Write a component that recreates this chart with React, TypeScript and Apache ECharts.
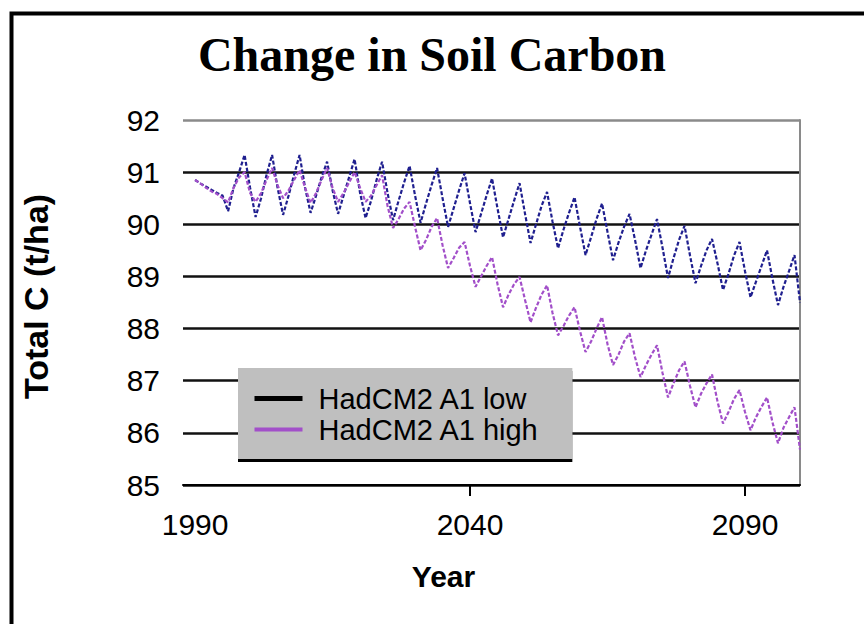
import React, { useEffect, useRef } from "react";
import * as echarts from "echarts";

const START_YEAR = 1990;

// Total soil carbon (t/ha), one value per year 1990..2100
const lowSeries = [
  90.85, 90.78, 90.72, 90.66, 90.6, 90.55, 90.25, 90.7, 91.0, 91.33,
  90.7, 90.14, 90.5, 90.95, 91.33, 90.7, 90.18, 90.55, 90.95, 91.33,
  90.7, 90.22, 90.55, 90.9, 91.2, 90.65, 90.2, 90.55, 90.9, 91.25,
  90.6, 90.12, 90.45, 90.85, 91.2, 90.6, 90.08, 90.45, 90.8, 91.12,
  90.55, 90.03, 90.4, 90.75, 91.08, 90.5, 89.95, 90.3, 90.65, 90.98,
  90.4, 89.85, 90.2, 90.55, 90.88, 90.3, 89.75, 90.1, 90.45, 90.79,
  90.2, 89.64, 90.0, 90.35, 90.62, 90.05, 89.54, 89.9, 90.22, 90.52,
  89.95, 89.41, 89.75, 90.1, 90.4, 89.85, 89.31, 89.65, 89.95, 90.2,
  89.7, 89.16, 89.5, 89.8, 90.1, 89.55, 88.97, 89.35, 89.7, 89.97,
  89.4, 88.87, 89.2, 89.5, 89.72, 89.25, 88.74, 89.05, 89.4, 89.66,
  89.1, 88.6, 88.9, 89.2, 89.5, 88.95, 88.45, 88.8, 89.1, 89.41,
  88.5,
];

const highSeries = [
  90.85, 90.78, 90.7, 90.63, 90.58, 90.5, 90.42, 90.7, 90.9, 91.0,
  90.6, 90.43, 90.6, 90.85, 91.08, 90.75, 90.5, 90.65, 90.85, 91.04,
  90.7, 90.41, 90.6, 90.85, 91.08, 90.7, 90.43, 90.6, 90.8, 91.0,
  90.7, 90.43, 90.55, 90.75, 90.94, 90.35, 89.93, 90.1, 90.3, 90.43,
  89.95, 89.5, 89.7, 89.95, 90.12, 89.6, 89.16, 89.35, 89.55, 89.66,
  89.2, 88.8, 89.0, 89.2, 89.37, 88.85, 88.41, 88.65, 88.85, 88.99,
  88.55, 88.12, 88.4, 88.65, 88.83, 88.3, 87.87, 88.05, 88.25, 88.41,
  87.95, 87.55, 87.75, 88.0, 88.22, 87.7, 87.3, 87.5, 87.75, 87.91,
  87.45, 87.07, 87.3, 87.5, 87.68, 87.15, 86.68, 86.95, 87.2, 87.37,
  86.9, 86.49, 86.75, 86.95, 87.12, 86.6, 86.18, 86.4, 86.65, 86.82,
  86.4, 86.05, 86.3, 86.5, 86.68, 86.2, 85.8, 86.1, 86.3, 86.49,
  85.68,
];

const seriesNames = ["HadCM2 A1 low", "HadCM2 A1 high"];
const xLabelYears = [1990, 2040, 2090];
const xTickYears = [2040, 2090];
const yMin = 85;
const yMax = 92;

const SANS = "'Liberation Sans', Arial, Helvetica, sans-serif";
const SERIF = "'Liberation Serif', 'Times New Roman', serif";

export default function App() {
  const ref = useRef<HTMLDivElement>(null);

  useEffect(() => {
    if (!ref.current) return;
    const chart = echarts.init(ref.current, undefined, { renderer: "svg" });
    const toPairs = (arr: number[]) => arr.map((v, i) => [START_YEAR + i, v]);

    chart.setOption({
      animation: false,
      backgroundColor: "#ffffff",
      title: {
        text: "Change in Soil Carbon",
        left: "center",
        top: 25,
        textStyle: {
          fontFamily: SERIF,
          fontWeight: "bold",
          fontSize: 48,
          color: "#000",
        },
      },
      graphic: [
        {
          type: "rect",
          shape: { x: 11.5, y: 13.5, width: 900, height: 700 },
          style: { fill: "none", stroke: "#000", lineWidth: 4 },
          silent: true,
          z: 100,
        },
      ],
      legend: {
        left: 238,
        top: 368,
        orient: "vertical",
        backgroundColor: "#bfbfbf",
        padding: [16, 33, 15, 14],
        itemGap: 2,
        itemWidth: 48,
        itemHeight: 14,
        shadowColor: "#000",
        shadowOffsetY: 3,
        shadowBlur: 0,
        textStyle: {
          fontFamily: SANS,
          fontSize: 29,
          color: "#000",
          padding: [0, 0, 0, 11],
        },
        data: [
          {
            name: seriesNames[0],
            itemStyle: { color: "#000", opacity: 0 },
            lineStyle: { color: "#000", width: 5, type: "solid" },
          },
          {
            name: seriesNames[1],
            itemStyle: { color: "#a24fc9", opacity: 0 },
            lineStyle: { color: "#a24fc9", width: 4, type: "solid" },
          },
        ],
      },
      grid: { left: 183, top: 120, right: 64, bottom: 139 },
      xAxis: {
        type: "value",
        min: 1987.8,
        max: 2100,
        name: "Year",
        nameLocation: "middle",
        nameGap: 76,
        nameTextStyle: {
          fontFamily: SANS,
          fontWeight: "bold",
          fontSize: 30,
          color: "#000",
          padding: [0, 96, 0, 0],
        },
        axisLine: { show: true, lineStyle: { color: "#000", width: 2 } },
        axisTick: {
          show: true,
          customValues: xTickYears,
          length: 11,
          lineStyle: { color: "#000", width: 2 },
        },
        axisLabel: {
          customValues: xLabelYears,
          formatter: (v: number) => String(v),
          fontFamily: SANS,
          fontSize: 30,
          color: "#000",
          margin: 24,
        },
        splitLine: { show: false },
      },
      yAxis: [
        {
          type: "value",
          min: yMin,
          max: yMax,
          interval: 1,
          name: "Total C (t/ha)",
          nameLocation: "middle",
          nameRotate: 90,
          nameGap: 130,
          nameTextStyle: {
            fontFamily: SANS,
            fontWeight: "bold",
            fontSize: 34,
            color: "#000",
            padding: [0, 0, 0, 12],
          },
          axisLine: { show: false },
          axisTick: { show: false },
          axisLabel: {
            fontFamily: SANS,
            fontSize: 30,
            color: "#000",
            margin: 23,
          },
          splitLine: {
            show: true,
            lineStyle: {
              color: ["#111", "#111", "#111", "#111", "#111", "#111", "#111", "#8a8a8a"],
              width: 2.5,
            },
          },
        },
        {
          type: "value",
          min: yMin,
          max: yMax,
          position: "right",
          axisLine: { show: true, lineStyle: { color: "#8a8a8a", width: 2 } },
          axisTick: { show: false },
          axisLabel: { show: false },
          splitLine: { show: false },
        },
      ],
      series: [
        {
          name: seriesNames[0],
          type: "line",
          data: toPairs(lowSeries),
          symbol: "none",
          lineStyle: { color: "#1f1f8f", width: 2.2, type: [4, 2] },
          itemStyle: { color: "#1f1f8f" },
        },
        {
          name: seriesNames[1],
          type: "line",
          data: toPairs(highSeries),
          symbol: "none",
          lineStyle: { color: "#a24fc9", width: 2.2, type: [4, 2] },
          itemStyle: { color: "#a24fc9" },
        },
      ],
    });

    return () => chart.dispose();
  }, []);

  return (
    <div
      ref={ref}
      style={{ position: "absolute", left: 0, top: 0, width: 864, height: 624 }}
    />
  );
}
